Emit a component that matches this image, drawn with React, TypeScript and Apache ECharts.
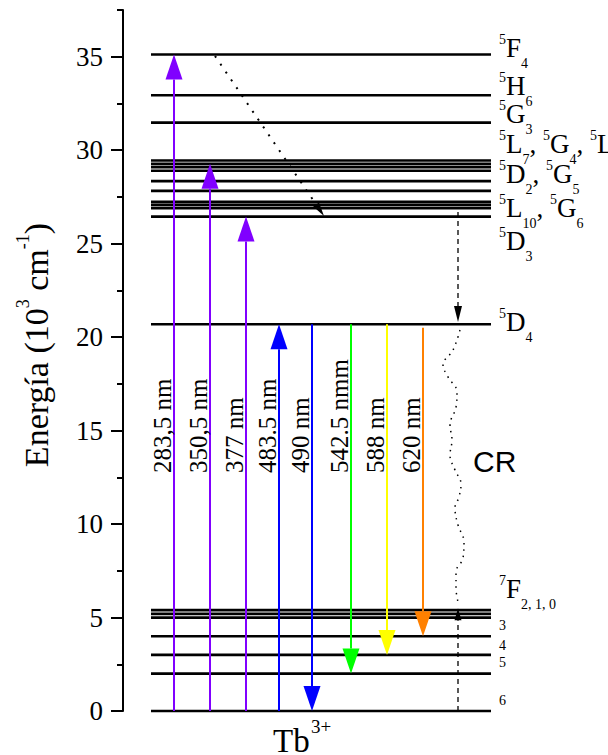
import { useEffect, useRef } from 'react';
import * as echarts from 'echarts';

// ---------------- data ----------------
// Energy levels of Tb3+ (10^3 cm^-1)
const levelEnergies = [
  0, 2.0, 3.0, 4.0, 5.0, 5.2, 5.4,
  20.69,
  26.45, 26.9, 27.07, 27.24, 27.82, 28.35, 28.9, 29.09, 29.27, 29.45,
  31.47, 32.94, 35.12,
];
const levelStartX = 28;
const levelEndX = 368;

// Radiative transitions (arrows)
const transitionNames = ['283,5 nm', '350,5 nm', '377 nm', '483.5 nm', '490 nm', '542.5 nmm', '588 nm', '620 nm'];
const transitionX = [51, 87, 123, 156, 189, 228, 264, 300];
const transitionFrom = [0, 0, 0, 0, 20.69, 20.69, 20.69, 20.5];
const transitionTo = [35.12, 29.27, 26.45, 20.69, 0, 2.0, 3.0, 4.0];
const transitionLabelStart = 12.73;

// Non-radiative relaxations (dotted / dashed arrows)
const relaxX1 = [92, 335, 335];
const relaxY1 = [35.04, 26.69, 0];
const relaxX2 = [201, 335, 335];
const relaxY2 = [26.48, 20.81, 5.5];

// Cross relaxation (CR) wavy dotted path
const crX = [337, 330, 320, 325, 334, 333, 327, 329, 327, 332, 338, 336, 332, 335, 341, 340, 333, 333, 335];
const crY = [20.38, 19.31, 18.51, 17.87, 17.07, 16.26, 15.3, 14.5, 13.69, 12.89, 12.14, 11.45, 10.86, 9.95, 9.04, 8.18, 7.44, 6.58, 5.83];

// State labels (right side)
const stateLabels = [
  '{sp|5}{m|F}{sb|4}',
  '{sp|5}{m|H}{sb|6}',
  '{sp|5}{m|G}{sb|3}',
  '{sp|5}{m|L}{sb|7}{m|, }{sp|5}{m|G}{sb|4}{m|, }{sp|5}{m|L}{sb|9}',
  '{sp|5}{m|D}{sb|2}{m|, }{sp|5}{m|G}{sb|5}',
  '{sp|5}{m|L}{sb|10}{m|, }{sp|5}{m|G}{sb|6}',
  '{sp|5}{m|D}{sb|3}',
  '{sp|5}{m|D}{sb|4}',
  '{sp|7}{m|F}{sb|2, 1, 0}',
  '{sd|3}',
  '{sd|4}',
  '{sd|5}',
  '{sd|6}',
];
const stateLabelAnchor = [34.99, 32.96, 31.46, 29.86, 28.25, 26.43, 24.67, 20.33, 6.05, 4.33, 3.26, 2.35, 0.32];
const stateLabelX = 376;

const yTickValues = [0, 5, 10, 15, 20, 25, 30, 35];
const yMinorTickValues = [2.5, 7.5, 12.5, 17.5, 22.5, 27.5, 32.5, 37.5];

// ---------------- styles ----------------
const SERIF = 'Liberation Serif';
const SANS = 'Liberation Sans';
const tok = (size: number, extra: any = {}, fam: string = SERIF) => ({
  font: `${size}px "${fam}"`,
  fontFamily: fam,
  fontSize: size,
  fill: '#000',
  color: '#000',
  ...extra,
});
const transitionColors = ['#8000ff', '#8000ff', '#8000ff', '#0000ff', '#0000ff', '#00ff00', '#ffff00', '#ff8000'];
const relaxStyles = [
  { width: 2, dash: [2, 7.5], headLen: 14, headW: 7 },
  { width: 1.3, dash: [5, 4], headLen: 16, headW: 8 },
  { width: 1.3, dash: [5, 4], headLen: 12, headW: 7 },
];

const labelRich = {
  m: tok(27),
  sp: tok(14, { padding: [0, 0, 17, 0] }),
  sb: tok(14, { padding: [31, 0, 0, 0] }),
  sd: tok(14),
};

function buildOption() {
  return {
    animation: false,
    backgroundColor: '#fff',
    textStyle: { fontFamily: SERIF },
    grid: { left: 123, right: 117, top: 10, bottom: 44 },
    xAxis: { type: 'value', min: 0, max: 368, show: false },
    yAxis: [
      {
        type: 'value',
        min: 0,
        max: 37.5,
        interval: 5,
        position: 'left',
        axisLine: { show: true, onZero: false, lineStyle: { color: '#000', width: 2 } },
        axisTick: { show: true, inside: false, length: 12, lineStyle: { color: '#000', width: 2 }, customValues: yTickValues },
        axisLabel: {
          customValues: yTickValues,
          fontFamily: SERIF,
          fontSize: 27,
          color: '#000',
          margin: 20,
          formatter: (v: number) => `{t|${v}}`,
          rich: { t: tok(27) },
        },
        splitLine: { show: false },
        minorTick: { show: false },
      },
      {
        type: 'value',
        min: 0,
        max: 37.5,
        interval: 5,
        position: 'left',
        axisLine: { show: false, onZero: false },
        axisTick: { show: true, inside: false, length: 6, lineStyle: { color: '#000', width: 2 }, customValues: yMinorTickValues },
        axisLabel: { show: false },
        splitLine: { show: false },
      },
    ],
    graphic: [
      {
        type: 'text',
        x: 36,
        y: 345,
        rotation: Math.PI / 2,
        style: {
          text: '{a|Energía (10}{sp|3}{a| cm}{sp|-1}{a|)}',
          font: `34px "${SERIF}"`,
          fill: '#000',
          align: 'center',
          verticalAlign: 'middle',
          rich: {
            a: tok(34),
            sp: tok(18, { padding: [0, 0, 26, 0] }),
          },
        },
      },
      {
        type: 'text',
        x: 273,
        y: 741,
        style: {
          text: '{a|Tb}',
          font: `33px "${SERIF}"`,
          fill: '#000',
          align: 'left',
          verticalAlign: 'middle',
          rich: { a: tok(33) },
        },
      },
      {
        type: 'text',
        x: 311,
        y: 726,
        style: {
          text: '{a|3+}',
          font: `19px "${SERIF}"`,
          fill: '#000',
          align: 'left',
          verticalAlign: 'middle',
          rich: { a: tok(19) },
        },
      },
      {
        type: 'text',
        x: 473,
        y: 461,
        style: {
          text: '{a|CR}',
          font: `30px "${SANS}"`,
          fill: '#000',
          align: 'left',
          verticalAlign: 'middle',
          rich: { a: tok(30, {}, SANS) },
        },
      },
    ],
    series: [
      {
        type: 'custom',
        name: 'levels',
        silent: true,
        z: 1,
        data: levelEnergies.map((e) => [levelStartX, e, levelEndX]),
        renderItem: (_p: any, api: any) => {
          const a = api.coord([api.value(0), api.value(1)]);
          const b = api.coord([api.value(2), api.value(1)]);
          return {
            type: 'line',
            shape: { x1: a[0], y1: a[1], x2: b[0], y2: b[1] },
            style: { stroke: '#000', lineWidth: 2.7 },
          };
        },
      },
      {
        type: 'line',
        name: 'CR',
        silent: true,
        z: 2,
        data: crX.map((x, i) => [x, crY[i]]),
        smooth: 0.4,
        showSymbol: false,
        symbol: 'none',
        lineStyle: { color: '#000', width: 1.5, type: [1.5, 5] },
      },
      {
        type: 'custom',
        name: 'relax',
        silent: true,
        z: 3,
        data: relaxX1.map((x, i) => [x, relaxY1[i], relaxX2[i], relaxY2[i]]),
        renderItem: (params: any, api: any) => {
          const st = relaxStyles[params.dataIndex];
          const a = api.coord([api.value(0), api.value(1)]);
          const b = api.coord([api.value(2), api.value(3)]);
          const dx = b[0] - a[0];
          const dy = b[1] - a[1];
          const len = Math.hypot(dx, dy);
          const ux = dx / len;
          const uy = dy / len;
          const bx = b[0] - ux * st.headLen;
          const by = b[1] - uy * st.headLen;
          const nx = -uy;
          const ny = ux;
          return {
            type: 'group',
            children: [
              {
                type: 'line',
                shape: { x1: a[0], y1: a[1], x2: bx, y2: by },
                style: { stroke: '#000', lineWidth: st.width, lineDash: st.dash },
              },
              {
                type: 'polygon',
                shape: {
                  points: [
                    [b[0], b[1]],
                    [bx + (nx * st.headW) / 2, by + (ny * st.headW) / 2],
                    [bx - (nx * st.headW) / 2, by - (ny * st.headW) / 2],
                  ],
                },
                style: { fill: '#000' },
              },
            ],
          };
        },
      },
      {
        type: 'custom',
        name: 'transitions',
        silent: true,
        z: 4,
        data: transitionX.map((x, i) => [x, transitionFrom[i], transitionTo[i]]),
        renderItem: (params: any, api: any) => {
          const i = params.dataIndex;
          const color = transitionColors[i];
          const x = api.value(0);
          const p0 = api.coord([x, api.value(1)]);
          const p1 = api.coord([x, api.value(2)]);
          const dir = p1[1] < p0[1] ? -1 : 1;
          const hl = 25;
          const hw = 17;
          const baseY = p1[1] - dir * hl;
          const lp = api.coord([x, transitionLabelStart]);
          return {
            type: 'group',
            children: [
              {
                type: 'line',
                shape: { x1: p0[0], y1: p0[1], x2: p0[0], y2: baseY },
                style: { stroke: color, lineWidth: 2 },
              },
              {
                type: 'polygon',
                shape: { points: [[p1[0], p1[1]], [p1[0] - hw / 2, baseY], [p1[0] + hw / 2, baseY]] },
                style: { fill: color },
              },
              {
                type: 'text',
                x: lp[0] - 12,
                y: lp[1],
                rotation: Math.PI / 2,
                style: {
                  text: `{a|${transitionNames[i]}}`,
                  x: 0,
                  y: 0,
                  font: `25px "${SERIF}"`,
                  fill: '#000',
                  align: 'left',
                  verticalAlign: 'middle',
                  rich: { a: tok(25) },
                },
              },
            ],
          };
        },
      },
      {
        type: 'custom',
        name: 'stateLabels',
        silent: true,
        z: 5,
        data: stateLabelAnchor.map((e) => [stateLabelX, e]),
        renderItem: (params: any, api: any) => {
          const t = stateLabels[params.dataIndex];
          const p = api.coord([api.value(0), api.value(1)]);
          const off = t.indexOf('{m|') >= 0 ? 0.3375 * 27 : 0.3375 * 14;
          return {
            type: 'text',
            x: p[0],
            y: p[1] - off,
            style: {
              text: t,
              rich: labelRich,
              font: `27px "${SERIF}"`,
              fill: '#000',
              align: 'left',
              verticalAlign: 'middle',
            },
          };
        },
      },
    ],
  };
}

export default function App() {
  const ref = useRef<HTMLDivElement>(null);
  useEffect(() => {
    if (!ref.current) return;
    const chart = echarts.init(ref.current, null, { renderer: 'svg' });
    chart.setOption(buildOption() as any);
    return () => chart.dispose();
  }, []);
  return (
    <div
      ref={ref}
      style={{ position: 'fixed', left: 0, top: 0, width: 608, height: 755, background: '#fff' }}
    />
  );
}
